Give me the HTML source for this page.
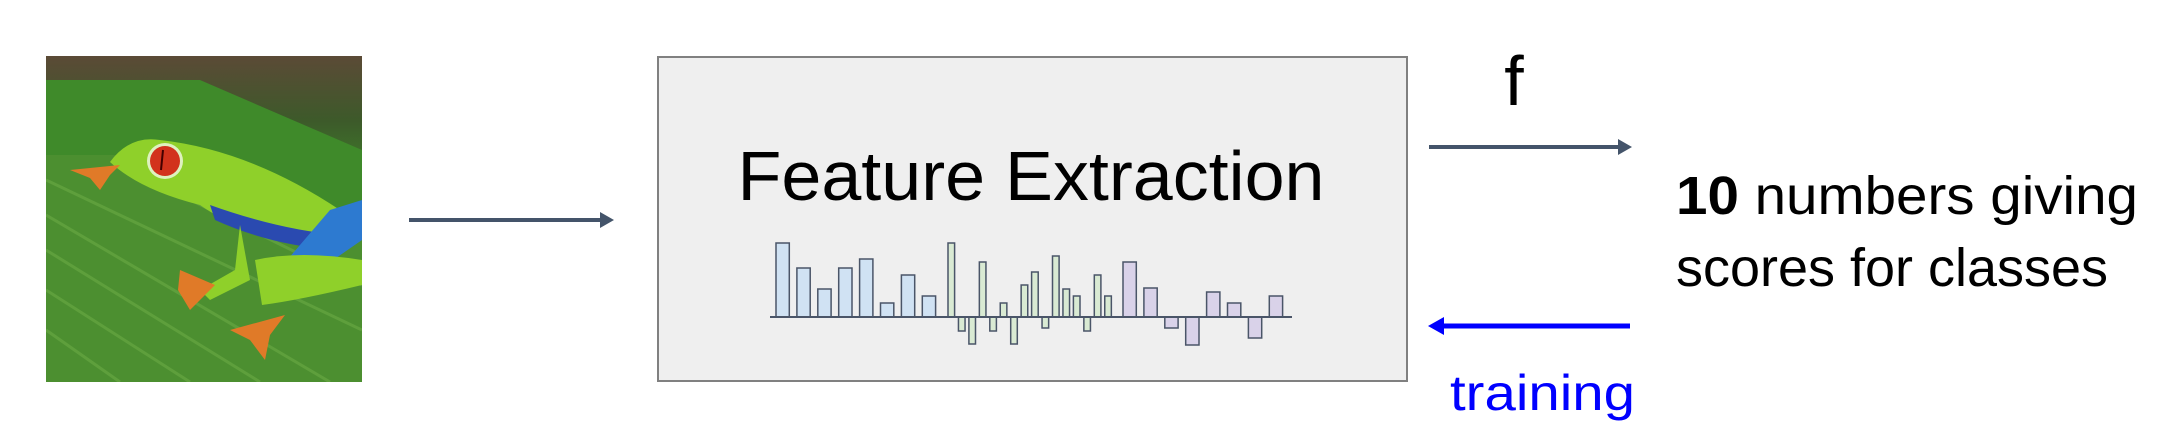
<!DOCTYPE html>
<html><head><meta charset="utf-8"><style>
html,body{margin:0;padding:0;background:#fff;}
svg{display:block;font-family:"Liberation Sans",sans-serif;}
</style></head><body>
<svg id="fig" width="2184" height="435" viewBox="0 0 2184 435">
<defs>
<linearGradient id="bg" x1="0" y1="0" x2="0" y2="1">
<stop offset="0" stop-color="#5b4a36"/><stop offset="0.2" stop-color="#3d5a2a"/><stop offset="0.35" stop-color="#3e7a2a"/><stop offset="1" stop-color="#2f6a1e"/></linearGradient>
<clipPath id="fc"><rect x="46" y="56" width="316" height="326"/></clipPath>
</defs>
<g clip-path="url(#fc)">
<rect x="46" y="56" width="316" height="326" fill="url(#bg)"/>
<path d="M46 80 L200 80 L362 150 L362 382 L46 382Z" fill="#3f8a2a"/>
<path d="M46 155 L150 155 L362 230 L362 382 L46 382Z" fill="#4c8f30"/>
<g stroke="#6aab45" stroke-width="3" opacity="0.6">
<line x1="46" y1="180" x2="362" y2="330"/><line x1="46" y1="215" x2="330" y2="382"/><line x1="46" y1="250" x2="260" y2="382"/><line x1="46" y1="290" x2="190" y2="382"/><line x1="46" y1="330" x2="120" y2="382"/><line x1="120" y1="165" x2="362" y2="285"/></g>
<path d="M110 162 Q130 135 160 140 Q250 150 340 210 Q360 240 330 250 Q250 240 200 205 Q140 190 110 162Z" fill="#8fd02a"/>
<path d="M210 205 Q280 230 340 235 L335 250 Q270 245 215 220Z" fill="#2a4ab0"/>
<path d="M330 210 L362 200 L362 240 L290 290 L270 280Z" fill="#2d7ad0"/>
<path d="M255 260 Q300 250 362 260 L362 285 Q300 300 262 305Z" fill="#8fd02a"/>
<path d="M240 225 L250 280 L210 300 L200 290 L235 270Z" fill="#8fd02a"/>
<g fill="#e07a28"><path d="M70 170 L120 165 L110 175 L100 190 L90 178Z"/><path d="M180 270 L215 285 L200 300 L190 310 L178 290Z"/><path d="M230 330 L285 315 L270 335 L265 360 L250 340Z"/></g>
<circle cx="165" cy="161" r="18" fill="#fff" opacity="0.7"/>
<circle cx="165" cy="161" r="15" fill="#d2321c"/>
<line x1="163" y1="150" x2="161" y2="170" stroke="#400" stroke-width="2"/>
</g>
<g><line x1="409" y1="220" x2="604" y2="220" stroke="#44546a" stroke-width="4"/><path d="M614 220 L600 212 L600 228Z" fill="#44546a"/></g>
<rect x="658" y="57" width="749" height="324" fill="#efefef" stroke="#808080" stroke-width="2"/>
<text x="1031" y="200" font-size="70" text-anchor="middle" textLength="587" lengthAdjust="spacingAndGlyphs" fill="#000">Feature Extraction</text>
<g id="bars"></g>
<text x="1514" y="105" font-size="70" text-anchor="middle" fill="#000">f</text>
<g><line x1="1429" y1="147" x2="1621" y2="147" stroke="#44546a" stroke-width="4"/><path d="M1632 147 L1618 139 L1618 155Z" fill="#44546a"/></g>
<g><line x1="1442" y1="326" x2="1630" y2="326" stroke="#0000ff" stroke-width="5"/><path d="M1428 326 L1444 317 L1444 335Z" fill="#0000ff"/></g>
<text x="1450" y="410" font-size="50" fill="#0000ff" textLength="185" lengthAdjust="spacingAndGlyphs">training</text>
<text x="1676" y="214" font-size="54" fill="#000" textLength="462" lengthAdjust="spacingAndGlyphs"><tspan font-weight="bold">10</tspan> numbers giving</text>
<text x="1676" y="286" font-size="54" fill="#000" textLength="432" lengthAdjust="spacingAndGlyphs">scores for classes</text>
</svg>
<script>
const blueVals=[74,49,28,49,58,14,42,21];
const greenVals=[74,-14,-27,55,-14,14,-27,32,45,-11,61,28,21,-14,42,21];
const purpleVals=[55,29,-11,-28,25,14,-21,21];
const ns="http://www.w3.org/2000/svg";
const g=document.getElementById('bars');
const baseY=317, x0=776;
function yv(v){return baseY-v;}
function addBar(x,w,v,fill,name){
  const r=document.createElementNS(ns,'rect');
  r.setAttribute('x',x);r.setAttribute('width',w);
  r.setAttribute('y',Math.min(yv(v),baseY));r.setAttribute('height',Math.abs(v));
  r.setAttribute('fill',fill);r.setAttribute('stroke','#4a5568');r.setAttribute('stroke-width','1.5');
  
  
  g.appendChild(r);
}
blueVals.forEach((v,i)=>addBar(x0+i*20.9,13.3,v,'#d0e2f3','bar-blue-'+i));
greenVals.forEach((v,i)=>addBar(x0+172+i*10.45,6.6,v,'#d9ead3','bar-green-'+i));
purpleVals.forEach((v,i)=>addBar(x0+347+i*20.9,13.3,v,'#d9d2e9','bar-purple-'+i));
const l=document.createElementNS(ns,'line');
l.setAttribute('x1',770);l.setAttribute('x2',1292);l.setAttribute('y1',baseY);l.setAttribute('y2',baseY);
l.setAttribute('stroke','#4a5568');l.setAttribute('stroke-width','2');


g.appendChild(l);
</script>
</body></html>
